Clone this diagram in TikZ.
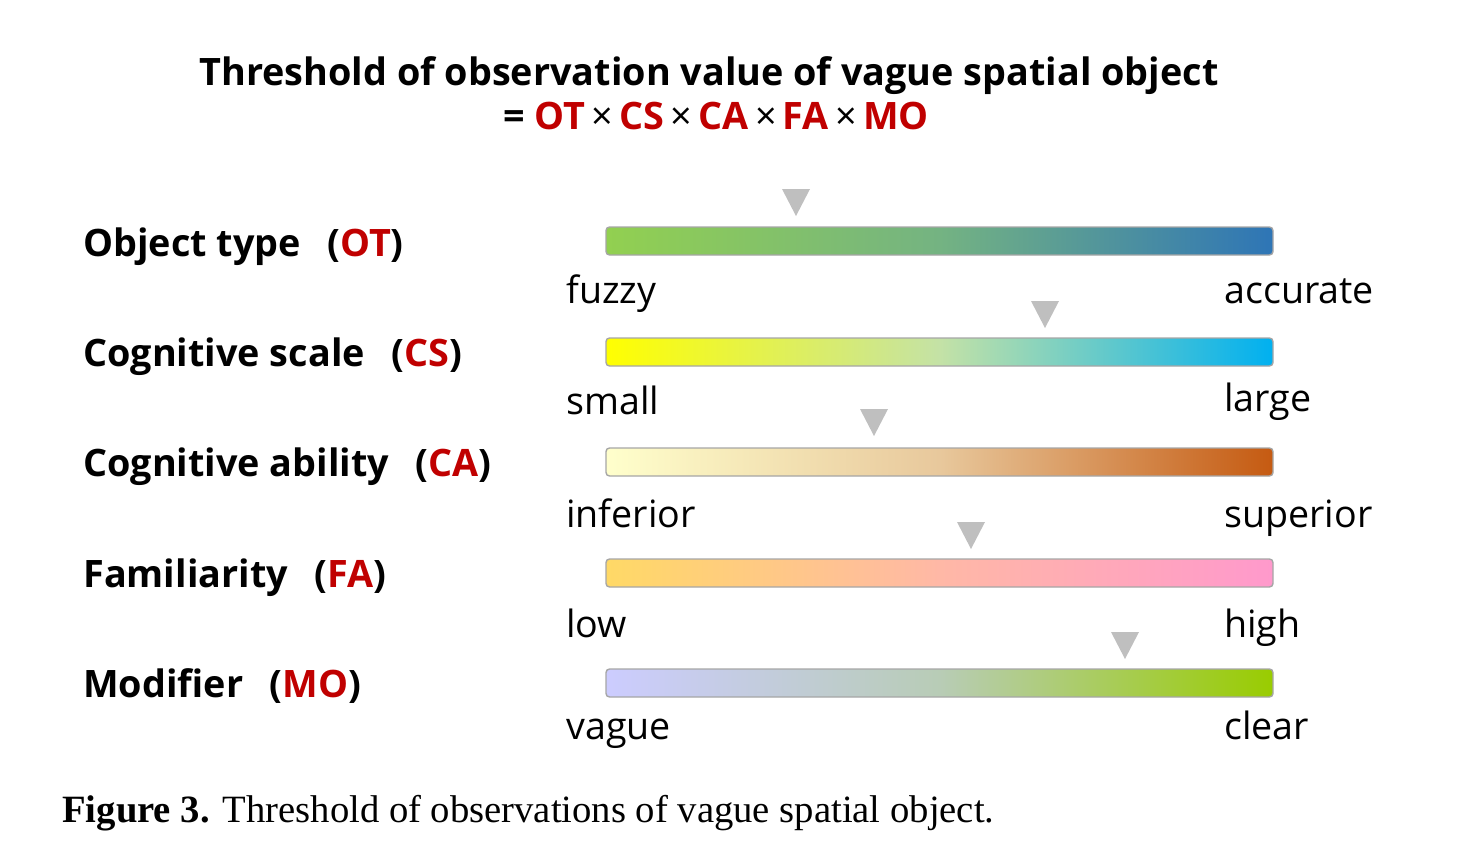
\documentclass[tikz,border=0pt]{standalone}
\usepackage{fontspec}
\setmainfont{Open Sans}
\newfontfamily\capfont{Liberation Serif}
\definecolor{redt}{HTML}{C00000}
\definecolor{trig}{HTML}{BFBFBF}
\definecolor{barline}{HTML}{A6A6A6}
\definecolor{otL}{HTML}{92D050}\definecolor{otM}{HTML}{74B382}\definecolor{otR}{HTML}{2E75B6}
\definecolor{csL}{HTML}{FFFF00}\definecolor{csM}{HTML}{C4E2A6}\definecolor{csR}{HTML}{00B0F0}
\definecolor{caL}{HTML}{FFFFCC}\definecolor{caM}{HTML}{E8C89C}\definecolor{caR}{HTML}{C55A11}
\definecolor{faL}{HTML}{FFD966}\definecolor{faM}{HTML}{FFB8A6}\definecolor{faR}{HTML}{FF99CC}
\definecolor{moL}{HTML}{CCCCFF}\definecolor{moM}{HTML}{B8CCB6}\definecolor{moR}{HTML}{99CC00}
\tikzset{
  title/.style={font=\bfseries\fontsize{21.5}{26}\selectfont, anchor=base, inner sep=0pt},
  factor/.style={font=\bfseries\fontsize{21.5}{24}\selectfont, anchor=base west, inner sep=0pt},
  endlab/.style={font=\fontsize{21.4}{24}\selectfont, anchor=base west, inner sep=0pt},
  marker/.style={fill=trig, draw=none},
}
\newcommand{\rt}[1]{\textcolor{redt}{#1}}
\newcommand{\tms}{{\mdseries\,×\,}}
\newcommand{\gradbar}[4]{% y center, left, middle, right colour
  \shade[left color=#2, right color=#4, middle color=#3, rounded corners=2] (606,#1-14) rectangle (1273,#1+14);
  \draw[barline, line width=0.8pt, rounded corners=2] (606,#1-14) rectangle (1273,#1+14);
}
\newcommand{\marktri}[2]{% x, top y
  \fill[marker] (#1-14,#2) -- (#1+14,#2) -- (#1,#2+27) -- cycle;
}
\begin{document}
\begin{tikzpicture}[x=0.02cm,y=-0.02cm]
\useasboundingbox (0,0) rectangle (1461,845);
\node[title] (t1) at (709,85) {Threshold of observation value of vague spatial object};
\node[title] (t2) at (716,129) {= \rt{OT}\tms\rt{CS}\tms\rt{CA}\tms\rt{FA}\tms\rt{MO}};

\node[factor] (ot) at (83,256) {Object type\hspace{0.7em}(\rt{OT})};
\node[factor] (cs) at (83,366) {Cognitive scale\hspace{0.7em}(\rt{CS})};
\node[factor] (ca) at (83,476) {Cognitive ability\hspace{0.7em}(\rt{CA})};
\node[factor] (fa) at (83,587) {Familiarity\hspace{0.7em}(\rt{FA})};
\node[factor] (mo) at (83,697) {Modifier\hspace{0.7em}(\rt{MO})};

\gradbar{241}{otL}{otM}{otR}
\gradbar{352}{csL}{csM}{csR}
\gradbar{462}{caL}{caM}{caR}
\gradbar{573}{faL}{faM}{faR}
\gradbar{683}{moL}{moM}{moR}

\marktri{796}{189}
\marktri{1045}{301}
\marktri{874}{409}
\marktri{971}{522}
\marktri{1125}{632}

\node[endlab] (l1) at (566,303) {fuzzy};
\node[endlab] (r1) at (1224,303) {accurate};
\node[endlab] (l2) at (566,414) {small};
\node[endlab] (r2) at (1224,411) {large};
\node[endlab] (l3) at (566,527) {inferior};
\node[endlab] (r3) at (1224,527) {superior};
\node[endlab] (l4) at (566,637) {low};
\node[endlab] (r4) at (1224,637) {high};
\node[endlab] (l5) at (566,739) {vague};
\node[endlab] (r5) at (1224,739) {clear};

\node[anchor=base west, inner sep=0pt, font=\capfont\fontsize{22}{26}\selectfont] (cap) at (62,822) {\textbf{Figure 3.} Threshold of observations of vague spatial object.};
\end{tikzpicture}
\end{document}
